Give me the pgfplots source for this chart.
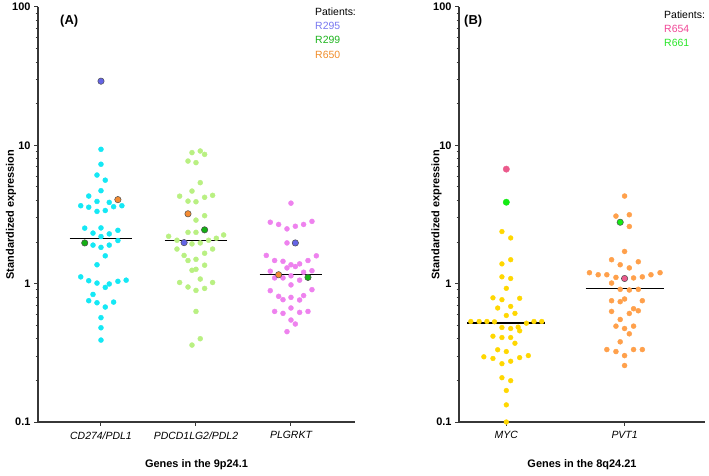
\documentclass[border=0pt]{standalone}
\usepackage{fontspec}
\setmainfont{Liberation Sans}
\usepackage{pgfplots}
\pgfplotsset{compat=1.18}
\definecolor{axgray}{RGB}{55,55,55}
\definecolor{cCD}{RGB}{20,232,245}
\definecolor{cPD}{RGB}{185,240,130}
\definecolor{cPL}{RGB}{238,130,238}
\definecolor{cMY}{RGB}{255,215,0}
\definecolor{cPV}{RGB}{255,160,75}
\definecolor{pA}{RGB}{100,100,230}
\definecolor{pB}{RGB}{20,175,20}
\definecolor{pC}{RGB}{245,140,50}
\definecolor{pD}{RGB}{235,90,140}
\definecolor{pE}{RGB}{20,235,20}
\definecolor{tA}{RGB}{120,120,240}
\definecolor{tB}{RGB}{30,180,30}
\definecolor{tC}{RGB}{240,140,40}
\definecolor{tD}{RGB}{240,70,150}
\definecolor{tE}{RGB}{40,230,40}
\begin{document}
\begin{tikzpicture}
\useasboundingbox (0,0) rectangle (709bp,476bp);
% ---------------- Panel A
\begin{axis}[ymode=log, scale only axis, anchor=south west, height=415bp,
    at={(38bp,54bp)}, width=317bp,
    ymin=0.1, ymax=100, clip=false,
    axis x line*=bottom, axis y line*=left,
    axis line style={draw=axgray, line width=1.4bp},
    ytick={0.1,1,10,100}, yticklabels={0.1,1,10,100},
    minor ytick={0.2,0.3,0.4,0.5,0.6,0.7,0.8,0.9,2,3,4,5,6,7,8,9,20,30,40,50,60,70,80,90},
    tick align=outside, major tick length=4bp, minor tick length=2.5bp,
    tick style={axgray, line width=1bp},
    yticklabel style={font=\bfseries\fontsize{11}{12}\selectfont},
    xticklabel style={font=\itshape\fontsize{10.5}{12}\selectfont, yshift=-2bp},
    xlabel style={font=\bfseries\fontsize{11}{12}\selectfont, at={(axis description cs:0.5,-0.104)}, anchor=center},
    ylabel style={font=\bfseries\fontsize{11}{12}\selectfont, at={(axis description cs:-0.085,0.5)}, rotate=0, anchor=center},
  xmin=-0.663, xmax=2.674,
  xtick={0,1,2}, xticklabels={CD274/PDL1,PDCD1LG2/PDL2,PLGRKT},
  xlabel={Genes in the 9p24.1}, ylabel={Standardized expression}]
\addplot[cCD, only marks, mark=*, mark size=2.5bp] coordinates {
(0,9.36) (0,7.3) (-0.042,6.1) (0.045,5.6) (0,4.7) (-0.129,4.3) (-0.042,3.93)
(-0.213,3.66) (-0.129,3.57) (0.087,3.87) (0.133,3.6) (0.22,3.66) (-0.042,3.33)
(0.045,3.38) (-0.171,2.52) (0,2.53) (0.178,2.43) (-0.084,2.32) (0.087,2.29)
(0,2.19) (0.178,2.05) (-0.084,1.90) (0.087,1.90) (0,1.83) (0.045,1.59)
(-0.042,1.37) (-0.213,1.12) (-0.129,1.05) (-0.042,1.01) (0.045,0.94)
(0.087,0.995) (0.178,1.04) (0.265,1.06) (-0.084,0.836) (-0.129,0.753)
(-0.042,0.728) (0.045,0.678) (0.133,0.736) (0,0.568) (0,0.48) (0,0.391)};
\addplot[cPD, only marks, mark=*, mark size=2.5bp] coordinates {
(0.958,8.86) (1.045,9.1) (1.091,8.6) (0.916,7.7) (1,7.5) (1.045,5.37)
(0.958,4.67) (0.828,4.29) (0.916,3.95) (1,3.91) (1.091,4.21) (1.175,4.35)
(1,2.88) (1.091,3.1) (0.916,2.35) (1,2.35) (0.712,2.2) (0.8,2.06)
(0.958,1.94) (1.045,1.97) (1.133,2.06) (1.214,2.13) (1.291,2.25) (0.8,1.78)
(1.175,1.78) (0.875,1.6) (1,1.5) (1.091,1.66) (0.916,1.47) (0.958,1.25)
(1,1.27) (1.091,1.36) (1.045,1.08) (0.828,1.02) (1.175,1.02) (0.916,0.946)
(1,0.894) (1.091,0.924) (1,0.63) (1.045,0.40) (0.958,0.36)};
\addplot[cPL, only marks, mark=*, mark size=2.5bp] coordinates {
(2,3.82) (1.782,2.78) (1.87,2.68) (1.958,2.49) (2.046,2.6) (2.133,2.68)
(2.221,2.82) (1.958,1.97) (1.74,1.6) (1.828,1.47) (1.916,1.45) (2,1.37)
(2.091,1.39) (2.179,1.47) (2.267,1.59) (1.958,1.3) (2.046,1.33) (1.782,1.23)
(2.221,1.24) (2.133,1.21) (2,1.14) (1.916,1.1) (1.828,1.1) (2.091,1.06)
(2,0.98) (1.782,0.89) (2.221,0.905) (1.87,0.81) (1.916,0.766) (2,0.796)
(2.091,0.762) (2.133,0.82) (1.828,0.63) (1.916,0.61) (2,0.667) (2.091,0.62)
(2.179,0.63) (2,0.546) (2.046,0.511) (1.958,0.45)};
\addplot[black, line width=1.3bp] coordinates {(-0.33,2.11) (0.33,2.11)};
\addplot[black, line width=1.3bp] coordinates {(0.67,2.05) (1.33,2.05)};
\addplot[black, line width=1.3bp] coordinates {(1.67,1.16) (2.33,1.16)};
\addplot[black!70, only marks, mark=*, mark size=3.2bp, mark options={line width=0.5bp, fill=pA}] coordinates {(0,29.1) (0.875,1.98) (2.046,1.97)};
\addplot[black!70, only marks, mark=*, mark size=3.2bp, mark options={line width=0.5bp, fill=pB}] coordinates {(-0.171,1.97) (1.091,2.45) (2.179,1.11)};
\addplot[black!70, only marks, mark=*, mark size=3.2bp, mark options={line width=0.5bp, fill=pC}] coordinates {(0.178,4.05) (0.916,3.2) (1.87,1.16)};
\end{axis}
% ---------------- Panel B
\begin{axis}[ymode=log, scale only axis, anchor=south west, height=415bp,
    at={(459bp,54bp)}, width=246bp,
    ymin=0.1, ymax=100, clip=false,
    axis x line*=bottom, axis y line*=left,
    axis line style={draw=axgray, line width=1.4bp},
    ytick={0.1,1,10,100}, yticklabels={0.1,1,10,100},
    minor ytick={0.2,0.3,0.4,0.5,0.6,0.7,0.8,0.9,2,3,4,5,6,7,8,9,20,30,40,50,60,70,80,90},
    tick align=outside, major tick length=4bp, minor tick length=2.5bp,
    tick style={axgray, line width=1bp},
    yticklabel style={font=\bfseries\fontsize{11}{12}\selectfont},
    xticklabel style={font=\itshape\fontsize{10.5}{12}\selectfont, yshift=-2bp},
    xlabel style={font=\bfseries\fontsize{11}{12}\selectfont, at={(axis description cs:0.5,-0.104)}, anchor=center},
    ylabel style={font=\bfseries\fontsize{11}{12}\selectfont, at={(axis description cs:-0.091,0.5)}, rotate=0, anchor=center},
  xmin=-0.40, xmax=1.68,
  xtick={0,1}, xticklabels={MYC,PVT1},
  xlabel={Genes in the 8q24.21}, ylabel={Standardized expression}]
\addplot[cMY, only marks, mark=*, mark size=2.4bp] coordinates {
(-0.037,2.38) (0.037,2.14) (-0.037,1.39) (0.037,1.49) (-0.037,1.12) (0.037,1.09)
(0,0.925) (-0.113,0.79) (-0.037,0.766) (0.113,0.784) (-0.073,0.667) (0.037,0.685)
(0,0.589) (0.073,0.61) (-0.30,0.533) (-0.23,0.533) (-0.164,0.533) (-0.10,0.53)
(0.234,0.533) (0.30,0.533) (0.17,0.518) (-0.037,0.482) (0.037,0.474) (0.10,0.485)
(0.113,0.456) (-0.113,0.417) (-0.037,0.408) (0.037,0.408) (0.073,0.371)
(-0.073,0.333) (0,0.323) (-0.19,0.296) (-0.113,0.288) (-0.037,0.264) (0.037,0.275)
(0.113,0.292) (0.186,0.302) (-0.037,0.209) (0.037,0.199) (0,0.169) (0,0.133) (0,0.1)};
\addplot[cPV, only marks, mark=*, mark size=2.5bp] coordinates {
(1,4.3) (0.927,3.08) (1.04,3.15) (1.04,2.59) (1,1.71) (0.89,1.49) (1.116,1.44)
(0.963,1.37) (1.04,1.30) (0.703,1.2) (0.777,1.16) (0.85,1.16) (0.927,1.11)
(1.076,1.1) (1.15,1.12) (1.223,1.16) (1.30,1.2) (0.89,1.01) (0.963,0.91)
(1.04,0.90) (1.116,0.91) (0.89,0.753) (0.963,0.741) (1,0.775) (1.15,0.753)
(1.076,0.659) (1.116,0.637) (1.04,0.609) (0.89,0.63) (0.963,0.551) (0.927,0.493)
(1,0.474) (1.076,0.493) (1.04,0.434) (0.963,0.38) (0.85,0.334) (0.927,0.323)
(1.076,0.334) (1.15,0.334) (1,0.302) (1,0.256)};
\addplot[black, line width=1.3bp] coordinates {(-0.33,0.52) (0.33,0.52)};
\addplot[black, line width=1.3bp] coordinates {(0.67,0.92) (1.33,0.92)};
\addplot[pD, only marks, mark=*, mark size=3.2bp, mark options={draw=black!70, line width=0.5bp, fill=pD}] coordinates {(1,1.09)};
\addplot[pD, only marks, mark=*, mark size=3.2bp] coordinates {(0,6.73)};
\addplot[pE, only marks, mark=*, mark size=3.2bp] coordinates {(0,3.88)};
\addplot[pE, only marks, mark=*, mark size=3.2bp, mark options={draw=black!70, line width=0.5bp, fill=pE}] coordinates {(0.963,2.78)};
\end{axis}
% ---------------- Annotations
\begin{scope}[every node/.style={inner sep=0pt, anchor=west, font=\fontsize{10.5}{12}\selectfont}]
\node[font=\bfseries\fontsize{13}{14}\selectfont] at (60bp,455bp) {(A)};
\node[font=\bfseries\fontsize{13}{14}\selectfont] at (464bp,455bp) {(B)};
\node at (315bp,464bp) {Patients:};
\node[text=tA] at (315bp,450bp) {R295};
\node[text=tB] at (315bp,436bp) {R299};
\node[text=tC] at (315bp,421bp) {R650};
\node at (664bp,461bp) {Patients:};
\node[text=tD] at (664bp,447bp) {R654};
\node[text=tE] at (664bp,433bp) {R661};
\end{scope}
\end{tikzpicture}
\end{document}
